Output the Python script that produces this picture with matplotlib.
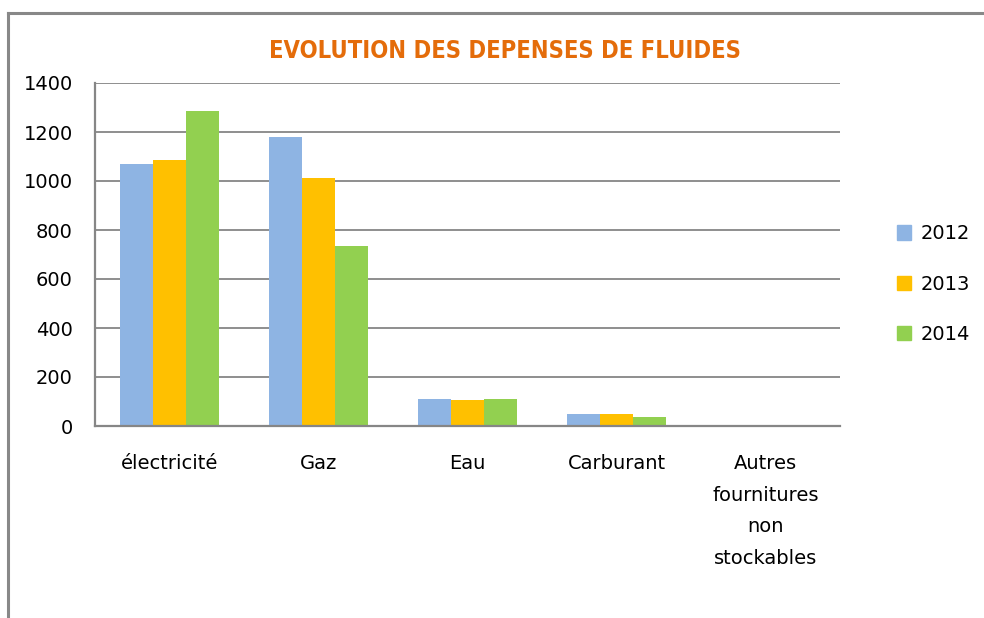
import matplotlib.pyplot as plt
from matplotlib.lines import Line2D
import numpy as np

categories = ["électricité", "Gaz", "Eau", "Carburant",
              "Autres\nfournitures\nnon\nstockables"]
years = ["2012", "2013", "2014"]
v2012 = [1068, 1178, 110, 49, 0]
v2013 = [1085, 1011, 106, 49, 4]
v2014 = [1285, 733, 110, 37, 0]
colors = ["#8EB4E3", "#FFC000", "#92D050"]

plt.rcParams["font.family"] = ["DejaVu Sans"]
grid_col = "#868686"

fig = plt.figure(figsize=(9.84, 6.18), dpi=100)
ax = fig.add_axes([95 / 984, 1 - 426 / 618, 745 / 984, 343 / 618])

x = np.arange(len(categories))
w = 0.222
for i, (vals, c, lab) in enumerate(zip([v2012, v2013, v2014], colors, years)):
    ax.bar(x + (i - 1) * w, vals, w, color=c, label=lab, zorder=2)

ax.set_xlim(-0.5, len(categories) - 0.5)
ax.set_ylim(0, 1400)
ax.set_yticks(range(0, 1401, 200))
ax.yaxis.grid(True, color=grid_col, lw=1.3, zorder=0)
ax.set_axisbelow(True)
for s in ["top", "right"]:
    ax.spines[s].set_visible(False)
for s in ["left", "bottom"]:
    ax.spines[s].set_color(grid_col)
    ax.spines[s].set_linewidth(1.6)
ax.tick_params(axis="y", length=0, pad=16, labelsize=14)
ax.tick_params(axis="x", length=0, pad=20, labelsize=14)
ax.set_xticks(x)
ax.set_xticklabels(categories, linespacing=1.85, va="top")

fig.text(505 / 984, 1 - 51 / 618, "EVOLUTION DES DEPENSES DE FLUIDES",
         ha="center", va="center", color="#E46C0A", fontsize=17,
         fontweight="bold", fontstretch="condensed")

handles = [plt.Rectangle((0, 0), 1, 1, color=c) for c in colors]
fig.legend(handles, years, loc="center left",
           bbox_to_anchor=(879 / 984, 1 - 284 / 618), frameon=False,
           fontsize=14, handlelength=0.75, handleheight=0.75,
           handletextpad=0.5, labelspacing=1.6)

# outer chart frame (top and left edges)
fig.add_artist(Line2D([8 / 984, 1], [1 - 13 / 618] * 2, color="#888888", lw=2.2))
fig.add_artist(Line2D([8 / 984] * 2, [0, 1 - 13 / 618], color="#888888", lw=2.2))

fig.savefig("out.png", dpi=100)
